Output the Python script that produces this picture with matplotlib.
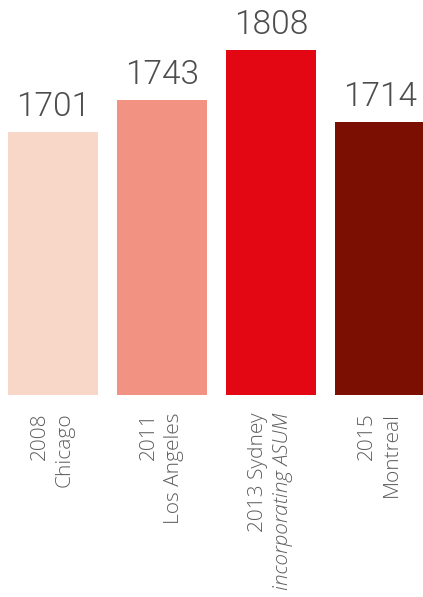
import matplotlib
matplotlib.use('Agg')
import matplotlib.pyplot as plt

years = ['2008', '2011', '2013 Sydney', '2015']
cities = ['Chicago', 'Los Angeles', 'incorporating ASUM', 'Montreal']
city_italic = [False, False, True, False]
values = [1701, 1743, 1808, 1714]
colors = ['#f8d6c8', '#f29282', '#e30613', '#7a0f02']

fig = plt.figure(figsize=(4.23, 5.97), dpi=100)
ax = fig.add_axes([0, 1 - 395 / 597, 1, 395 / 597])

x = list(range(len(values)))
bars = ax.bar(x, values, width=90 / 109, color=colors, bottom=0)
ax.set_xlim(-53 / 109, 370 / 109)
ax.set_ylim(1360, 1360 + 395 / 0.77)
ax.axis('off')

for xi, v in zip(x, values):
    ax.annotate(str(v), xy=(xi, v), xytext=(0, 9), textcoords='offset pixels',
                ha='center', va='bottom', fontsize=24, family='Roboto',
                fontweight=300, color='#4d4d4d')

for xi, yr, city, it in zip(x, years, cities, city_italic):
    ax.annotate(yr, xy=(xi, 0), xycoords=('data', 'axes fraction'),
                xytext=(-13, -17), textcoords='offset pixels',
                ha='center', va='top', rotation=90, fontsize=15,
                family='Open Sans', fontweight=300, color='#5e5e5e')
    ax.annotate(city, xy=(xi, 0), xycoords=('data', 'axes fraction'),
                xytext=(12, -17), textcoords='offset pixels',
                ha='center', va='top', rotation=90, fontsize=15,
                family='Open Sans', fontweight=300, color='#5e5e5e',
                style='italic' if it else 'normal')

fig.savefig('out.png', dpi=100)
